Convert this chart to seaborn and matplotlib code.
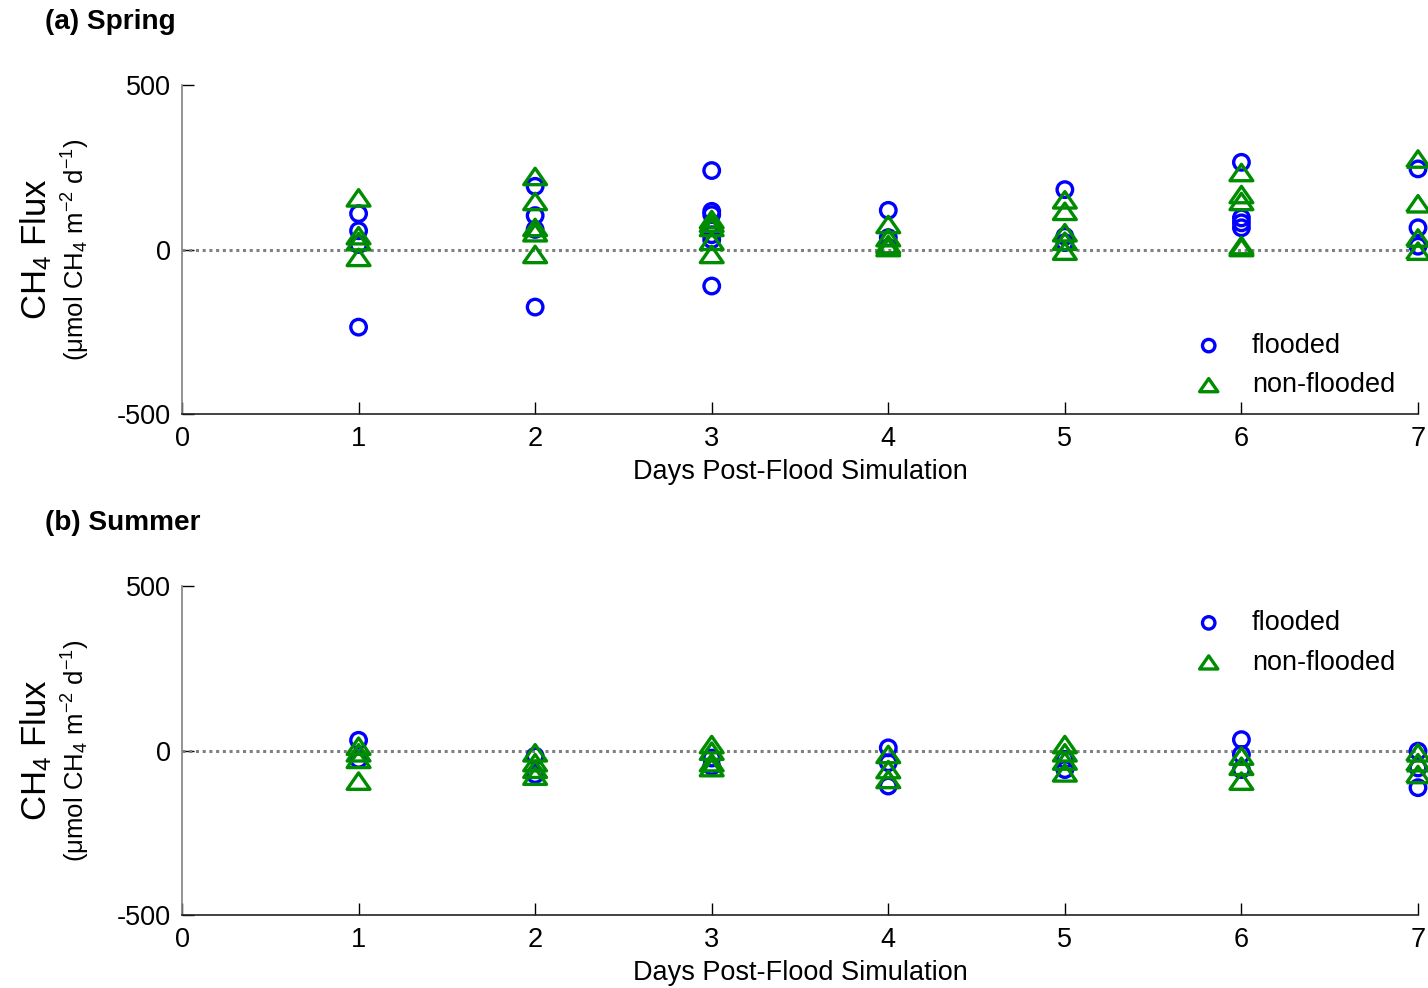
import numpy as np
import pandas as pd
import matplotlib
matplotlib.use("Agg")
import matplotlib.pyplot as plt
from matplotlib.path import Path
import seaborn as sns

# ---------------- data ----------------
days = [1, 2, 3, 4, 5, 6, 7]

spring_flooded = {
    1: [109, 57, 15, -236],
    2: [192, 103, 61, -175],
    3: [240, 116, 106, 45, 30, -111],
    4: [119, 36, 6],
    5: [182, 40, 21],
    6: [265, 96, 81, 66],
    7: [245, 66, 10],
}
spring_nonflooded = {
    1: [157, 42, 24, -24],
    2: [222, 146, 67, 51, -15],
    3: [91, 80, 67, 25, -15],
    4: [76, 36, 15, 6],
    5: [151, 116, 51, 25, -5],
    6: [234, 167, 146, 12, 6],
    7: [275, 139, 35, -5],
}
summer_flooded = {
    1: [31, -27],
    2: [-17, -73],
    3: [-23, -48],
    4: [8, -37, -108],
    5: [-27, -58],
    6: [33, -12, -58],
    7: [-2, -53, -113],
}
summer_nonflooded = {
    1: [13, -7, -27, -93],
    2: [-7, -37, -57, -78],
    3: [18, -2, -37, -52],
    4: [-12, -58, -88],
    5: [18, -7, -32, -68],
    6: [-17, -48, -93],
    7: [-7, -37, -73],
}

groups = ["flooded", "non-flooded"]
panel_titles = ["(a) Spring", "(b) Summer"]
xticks = [0, 1, 2, 3, 4, 5, 6, 7]
yticks = [-500, 0, 500]
xlabel = "Days Post-Flood Simulation"


def to_frame(d, group):
    rows = []
    for day in days:
        for v in d[day]:
            rows.append({"day": day, "flux": v, "group": group})
    return pd.DataFrame(rows)


# ---------------- style ----------------
sns.set_style("ticks")
plt.rcParams["font.family"] = ["Liberation Sans", "DejaVu Sans"]
plt.rcParams["mathtext.fontset"] = "custom"
plt.rcParams["mathtext.rm"] = "Liberation Sans"
plt.rcParams["mathtext.it"] = "Liberation Sans:italic"
plt.rcParams["mathtext.bf"] = "Liberation Sans:bold"
plt.rcParams["axes.unicode_minus"] = False
plt.rcParams["text.color"] = "black"
plt.rcParams["axes.labelcolor"] = "black"

BLUE = "#0000FF"
GREEN = "#008C00"
tri = Path([(-1.0, -0.72), (1.0, -0.72), (0.0, 0.72), (-1.0, -0.72)],
           [Path.MOVETO, Path.LINETO, Path.LINETO, Path.CLOSEPOLY])
styles = {
    "flooded": dict(marker="o", color=BLUE, s=125),
    "non-flooded": dict(marker=tri, color=GREEN, s=270),
}

fig = plt.figure(figsize=(14.28, 9.88), dpi=100)
left = 182 / 1428
width = (1418 - 182) / 1428
ax_top = fig.add_axes([left, 1 - 414 / 988, width, 329 / 988])
ax_bot = fig.add_axes([left, 1 - 915 / 988, width, 329 / 988])

panels = [
    (ax_top, spring_flooded, spring_nonflooded, (0.80, 0.28)),
    (ax_bot, summer_flooded, summer_nonflooded, (0.80, 0.96)),
]
title_y = [22, 523]

FS = 19.5
for i, (ax, fl, nf, leg_anchor) in enumerate(panels):
    ax.axhline(0, color="#808080", linestyle=(0, (1, 1.2)), linewidth=2.2, zorder=1)
    for g, d in zip(groups, [fl, nf]):
        df = to_frame(d, g)
        st = styles[g]
        sns.scatterplot(data=df, x="day", y="flux", ax=ax, marker=st["marker"],
                        color=st["color"], facecolor="none", edgecolor=st["color"],
                        linewidth=2.4, s=st["s"], clip_on=False, zorder=3,
                        label=g)
    ax.set_xlim(0, 7)
    ax.set_ylim(-500, 500)
    ax.set_xticks(xticks)
    ax.set_yticks(yticks)
    ax.set_xticklabels([str(t) for t in xticks])
    ax.set_yticklabels([str(t) for t in yticks])
    ax.tick_params(axis="both", direction="in", length=8.5, width=1.0,
                   labelsize=FS, colors="black")
    ax.tick_params(axis="x", pad=8.5)
    ax.tick_params(axis="y", pad=8)
    ax.set_xlabel(xlabel, fontsize=FS, labelpad=5)
    ax.set_ylabel("")
    for sp in ["top", "right"]:
        ax.spines[sp].set_visible(False)
    ax.spines["left"].set_color("#808080")
    ax.spines["bottom"].set_color("#222222")
    ax.spines["left"].set_linewidth(1.2)
    ax.spines["bottom"].set_linewidth(1.2)

    # two-line y label
    ax.text(-0.118, 0.5, "CH$_4$ Flux", transform=ax.transAxes, rotation=90,
            ha="center", va="center", fontsize=25)
    ax.text(-0.086, 0.5, "(\u03bcmol CH$_4$ m$^{-2}$ d$^{-1}$)", transform=ax.transAxes,
            rotation=90, ha="center", va="center", fontsize=18.5)

    # legend
    handles, labels = ax.get_legend_handles_labels()
    leg = ax.legend(handles, labels, loc="upper left", bbox_to_anchor=leg_anchor,
                    frameon=False, fontsize=FS, handletextpad=0.6,
                    labelspacing=0.5, markerscale=0.8, borderaxespad=0)

    fig.text(45 / 1428, 1 - title_y[i] / 988, panel_titles[i], fontsize=FS + 0.7,
             fontweight="bold", ha="left", va="center")

fig.savefig("out.png", dpi=100)
